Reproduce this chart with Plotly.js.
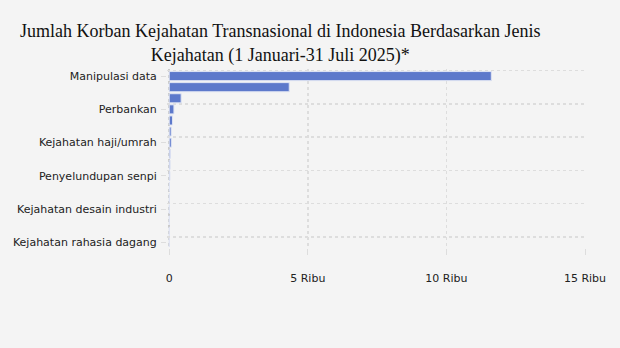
<!DOCTYPE html>
<html>
<head>
<meta charset="utf-8">
<script src="https://cdn.plot.ly/plotly-3.0.1.min.js"></script>
<style>
html,body{margin:0;padding:0;background:#f4f4f4;}
#chart{width:620px;height:348px;}
</style>
</head>
<body>
<div id="chart"></div>
<script>
const categories = [
  "Manipulasi data",
  "Penipuan online",
  "Judi online",
  "Perbankan",
  "Perdagangan orang",
  "Narkotika",
  "Kejahatan haji/umrah",
  "Pencucian uang",
  "Penyelundupan migran",
  "Penyelundupan senpi",
  "Kejahatan siber lainnya",
  "Penyelundupan satwa",
  "Kejahatan desain industri",
  "Kejahatan merek",
  "Kejahatan hak cipta",
  "Kejahatan rahasia dagang"
];
const victims = [11620, 4330, 430, 170, 120, 70, 75, 40, 30, 25, 10, 5, 3, 2, 1, 1];
const shownLabels = [
  "Manipulasi data",
  "Perbankan",
  "Kejahatan haji/umrah",
  "Penyelundupan senpi",
  "Kejahatan desain industri",
  "Kejahatan rahasia dagang"
];
const xTickVals = [0, 5000, 10000, 15000];
const xTickText = ["0", "5 Ribu", "10 Ribu", "15 Ribu"];

const traces = [
  {
    type: "bar",
    orientation: "h",
    y: categories,
    x: victims,
    marker: {color: "#5d79cb", line: {color: "#dfe4f3", width: 1}},
    hoverinfo: "x+y",
    xaxis: "x",
    yaxis: "y"
  },
  {
    type: "bar",
    orientation: "h",
    y: categories,
    x: victims,
    opacity: 0,
    hoverinfo: "skip",
    xaxis: "x2",
    yaxis: "y2",
    showlegend: false
  }
];

const xRange = [-80, 15000];
const yRange = [categories.length - 0.5, -0.64];
const tickFont = {family: "DejaVu Sans, Verdana, sans-serif", size: 11, color: "#222"};

const layout = {
  width: 620,
  height: 348,
  paper_bgcolor: "#f4f4f4",
  plot_bgcolor: "#f4f4f4",
  margin: {l: 167, r: 35, t: 69, b: 100, pad: 0},
  showlegend: false,
  bargap: 0.18,
  barmode: "overlay",
  title: {
    text: "Jumlah Korban Kejahatan Transnasional di Indonesia Berdasarkan Jenis<br>Kejahatan (1 Januari-31 Juli 2025)*",
    font: {family: "Liberation Serif, Times New Roman, serif", size: 18, color: "#111"},
    x: 0.452,
    xanchor: "center",
    xref: "container",
    y: 0.893,
    yanchor: "middle"
  },
  xaxis: {
    range: xRange,
    tickvals: xTickVals,
    ticktext: xTickText,
    showgrid: true,
    gridcolor: "#dddddd",
    griddash: "dot",
    gridwidth: 1.5,
    zeroline: false,
    ticks: "outside",
    ticklen: 6,
    tickcolor: "#dddddd",
    ticklabelstandoff: 14,
    tickfont: tickFont,
    fixedrange: true
  },
  xaxis2: {
    overlaying: "x",
    anchor: "y2",
    side: "bottom",
    range: xRange,
    tickvals: [0],
    showticklabels: false,
    ticks: "",
    showgrid: true,
    gridcolor: "#c9c9c9",
    griddash: "dot",
    gridwidth: 1.8,
    zeroline: false,
    fixedrange: true
  },
  yaxis: {
    type: "category",
    categoryorder: "array",
    categoryarray: categories,
    range: yRange,
    tickvals: shownLabels,
    ticktext: shownLabels,
    showgrid: false,
    ticks: "outside",
    ticklen: 5,
    tickcolor: "#dddddd",
    ticklabelstandoff: 2,
    tickfont: tickFont,
    showline: false,
    fixedrange: true
  },
  yaxis2: {
    type: "category",
    overlaying: "y",
    anchor: "x2",
    side: "left",
    categoryorder: "array",
    categoryarray: categories,
    range: yRange,
    tickvals: shownLabels,
    tickson: "boundaries",
    showticklabels: false,
    ticks: "",
    showgrid: true,
    gridcolor: "#dddddd",
    griddash: "dot",
    gridwidth: 1.5,
    fixedrange: true
  }
};

Plotly.newPlot("chart", traces, layout, {displayModeBar: false, staticPlot: true});
</script>
</body>
</html>
